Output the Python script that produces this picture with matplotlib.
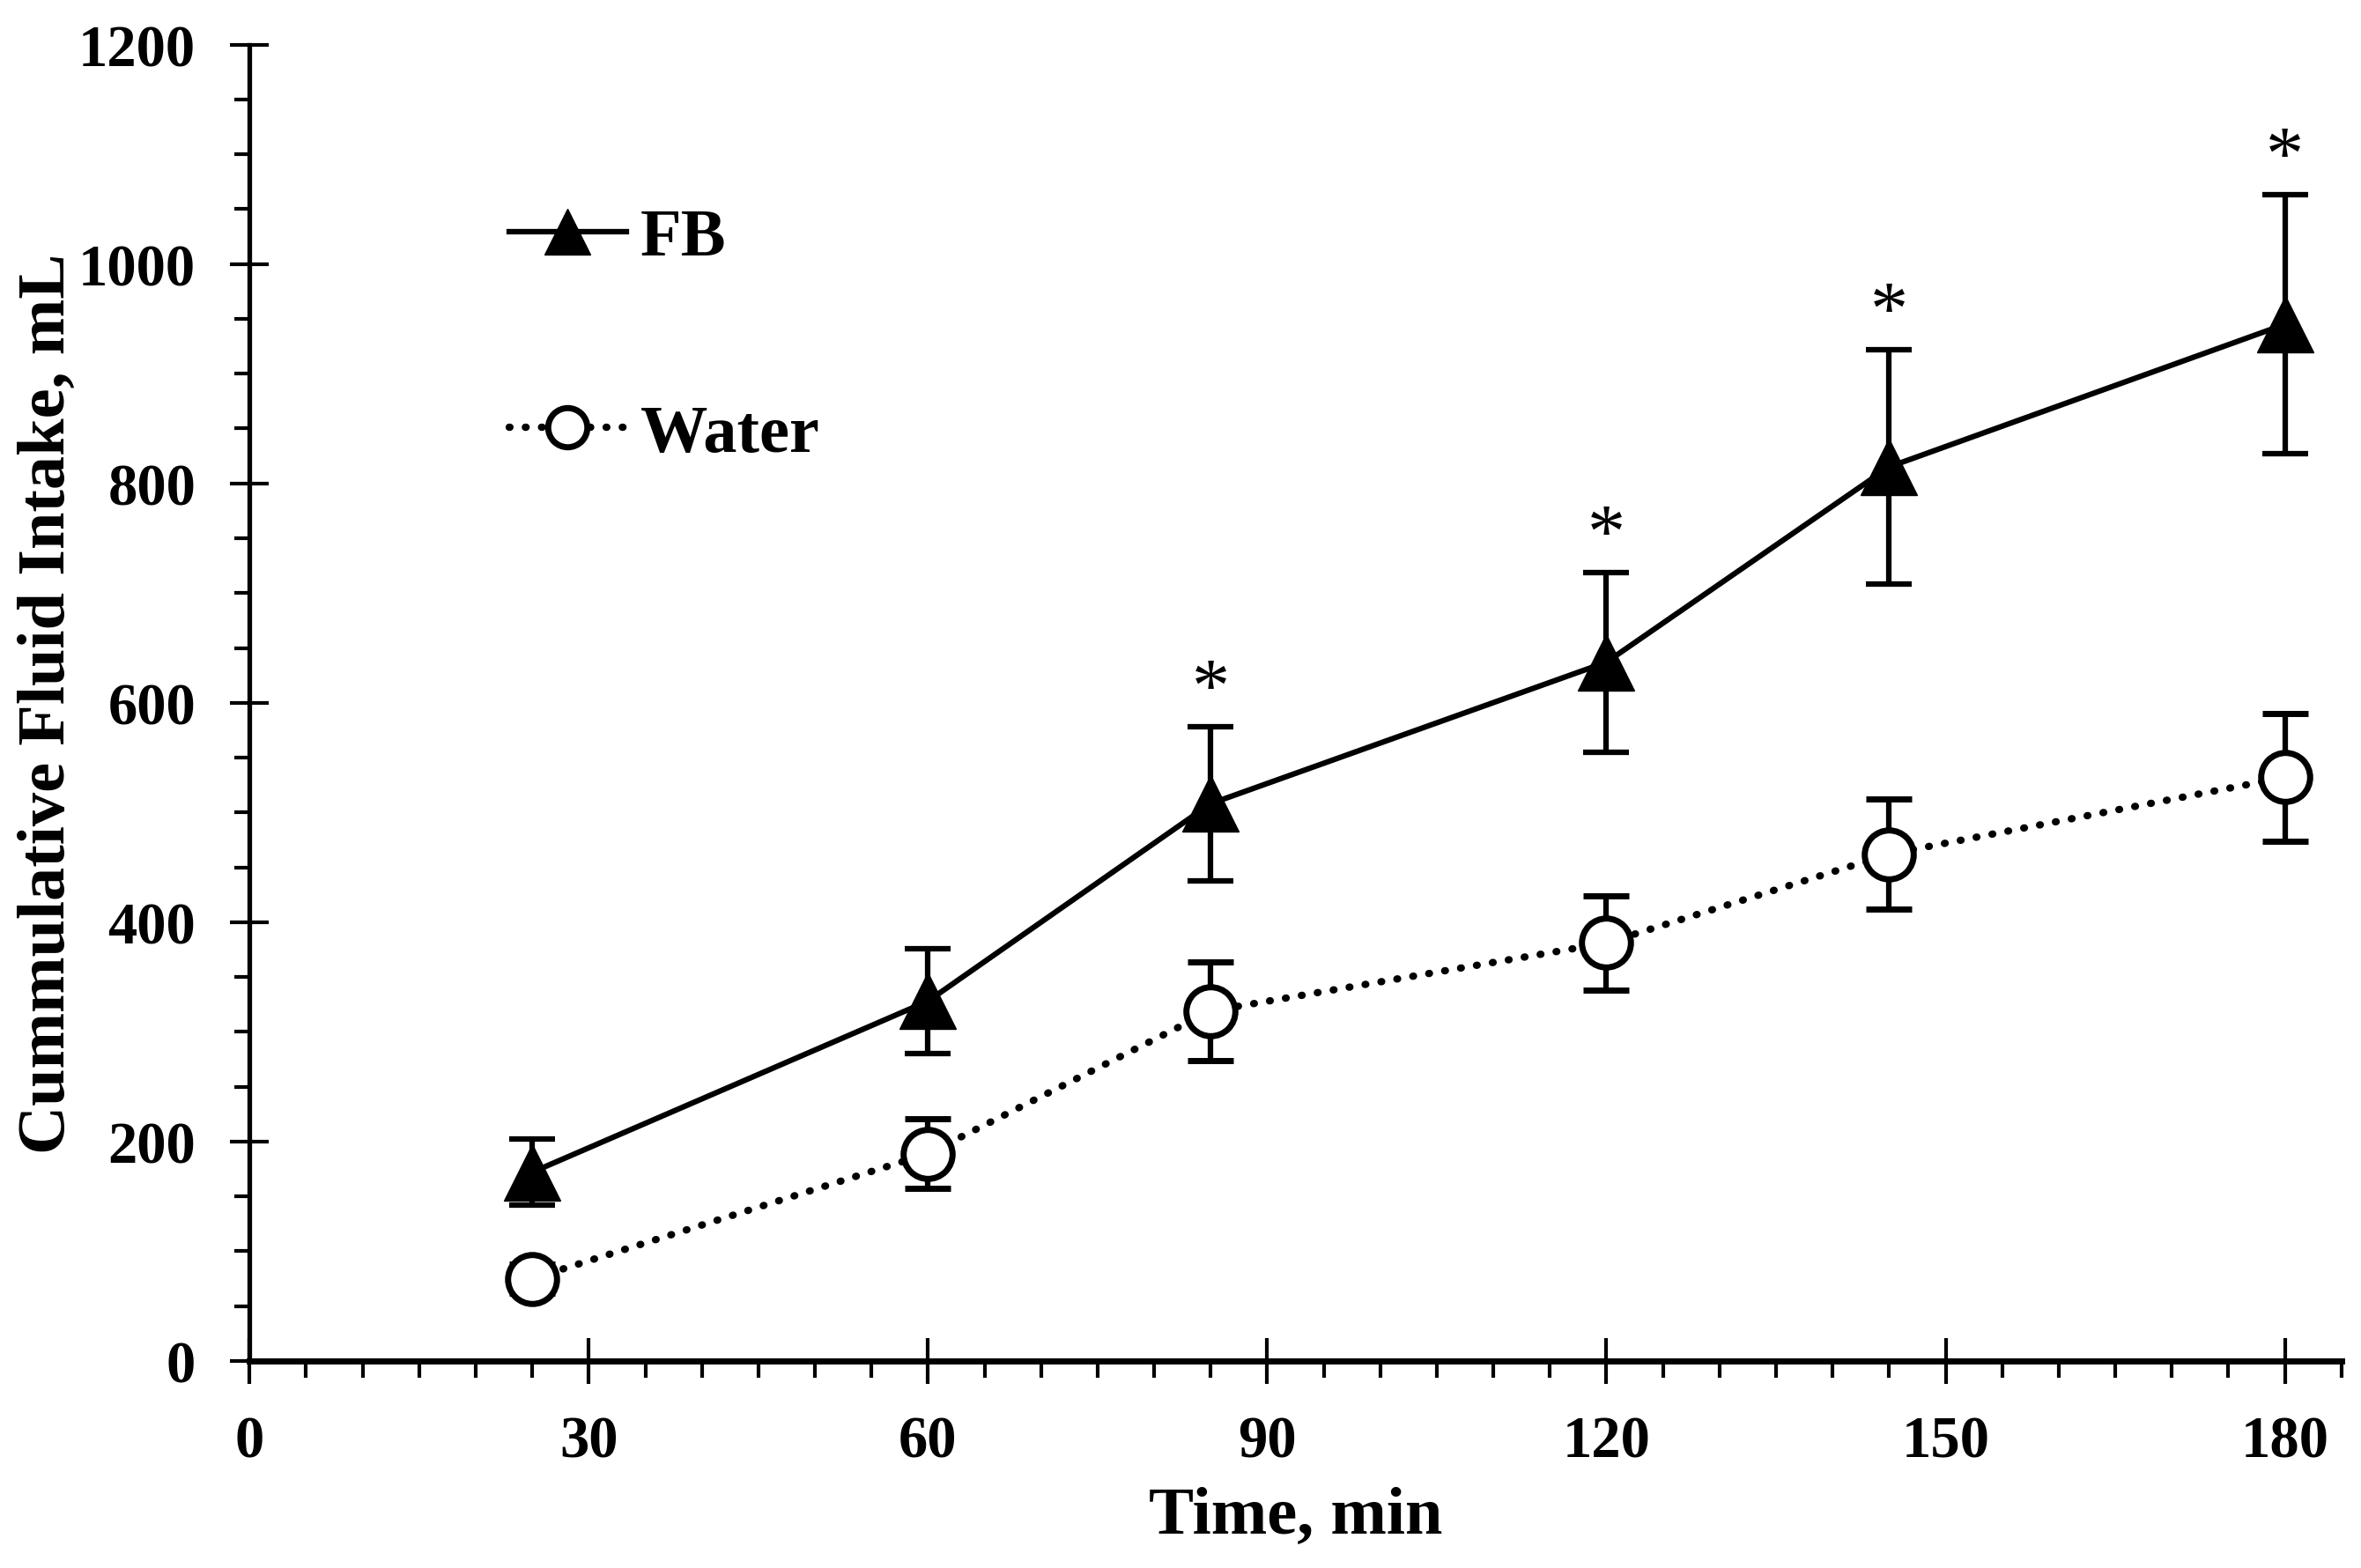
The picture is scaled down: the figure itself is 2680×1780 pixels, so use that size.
import matplotlib
matplotlib.use('Agg')
import matplotlib.pyplot as plt
from matplotlib.ticker import MultipleLocator

# time points (min)
time_min = [25, 60, 85, 120, 145, 180]

# cumulative fluid intake (mL), mean and error
fb_mean = [172, 328, 508, 637, 815, 945]
fb_err = [30, 48, 70, 82, 107, 118]
water_mean = [75, 189, 319, 381, 462, 532]
water_err = [13, 32, 45, 43, 50, 58]

series_names = ['FB', 'Water']

# asterisk marks significant difference at these points
fb_signif = [False, False, True, True, True, True]

plt.rcParams['font.family'] = ['Liberation Serif', 'DejaVu Serif']
plt.rcParams['font.weight'] = 'bold'

fig = plt.figure(figsize=(26.8, 17.81), dpi=100)
ax = fig.add_axes([0.1057, 0.132, 0.886, 0.839])

# FB series
fb = ax.errorbar(time_min, fb_mean, yerr=fb_err, color='black', linestyle='-', linewidth=4.5,
                 marker='^', markersize=46, markerfacecolor='black', markeredgecolor='black',
                 ecolor='black', elinewidth=4.5, capsize=19, capthick=4.5, zorder=3)

# Water series
water = ax.errorbar(time_min, water_mean, yerr=water_err, color='black',
                    linestyle=(0, (0.1, 2.1)), linewidth=6, dash_capstyle='round',
                    marker='o', markersize=40, markerfacecolor='white', markeredgecolor='black',
                    markeredgewidth=5, ecolor='black', elinewidth=4.5, capsize=19, capthick=4.5,
                    zorder=3)

# significance asterisks
for t, m, e, s in zip(time_min, fb_mean, fb_err, fb_signif):
    if s:
        ax.annotate('*', (t, m + e), textcoords='offset points', xytext=(0, 0),
                    ha='center', va='bottom', fontsize=62, fontweight='normal')

ax.set_xlim(0, 185)
ax.set_ylim(0, 1200)
ax.xaxis.set_major_locator(MultipleLocator(30))
ax.xaxis.set_minor_locator(MultipleLocator(5))
ax.yaxis.set_major_locator(MultipleLocator(200))
ax.yaxis.set_minor_locator(MultipleLocator(50))

ax.spines['top'].set_visible(False)
ax.spines['right'].set_visible(False)
ax.spines['bottom'].set_linewidth(5)
ax.spines['left'].set_linewidth(3.8)

ax.tick_params(axis='x', which='major', direction='inout', length=37, width=3, pad=26, labelsize=48)
ax.tick_params(axis='x', which='minor', direction='out', length=14, width=3)
ax.tick_params(axis='y', which='major', direction='inout', length=32, width=3, pad=28, labelsize=48)
ax.tick_params(axis='y', which='minor', direction='out', length=12, width=3)
for lab in ax.get_xticklabels() + ax.get_yticklabels():
    lab.set_fontweight('bold')

ax.set_xlabel('Time, min', fontsize=55, fontweight='bold', labelpad=14)
ax.set_ylabel('Cummulative Fluid Intake, mL', fontsize=55, fontweight='bold', labelpad=0)

leg = ax.legend(handles=[fb[0], water[0]], labels=series_names, loc='upper left',
                bbox_to_anchor=(0.095, 0.922), frameon=False, fontsize=55,
                handlelength=1.75, handletextpad=0.2, labelspacing=2.0, markerscale=0.8)
for txt in leg.get_texts():
    txt.set_fontweight('bold')

fig.savefig('out.png', dpi=100)
